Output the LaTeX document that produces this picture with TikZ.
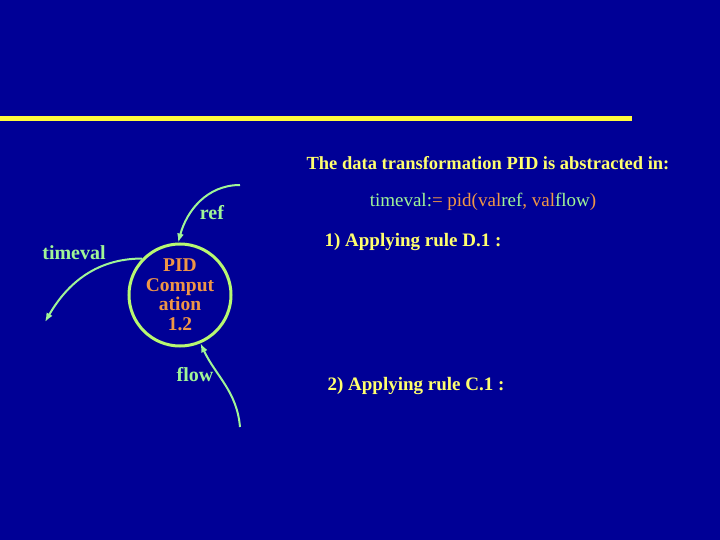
\documentclass[tikz,border=0pt]{standalone}
\usepackage{fontspec}
\setmainfont{Liberation Serif}
\usetikzlibrary{arrows.meta}
\definecolor{slideblue}{RGB}{0,0,150}
\definecolor{rulebar}{RGB}{255,250,60}
\definecolor{flowgreen}{RGB}{160,245,150}
\definecolor{procorange}{RGB}{240,150,70}
\definecolor{titleyellow}{RGB}{255,255,110}

\tikzset{
  flowlabel/.style={text=flowgreen, font=\fontsize{20}{22}\selectfont\bfseries},
  flowarrow/.style={draw=flowgreen, line width=2pt, -{Latex[length=9pt,width=7pt]}},
  slidetext/.style={text=titleyellow, font=\fontsize{19}{21}\selectfont\bfseries},
}

\begin{document}
\begin{tikzpicture}[x=1pt, y=-1pt]
	\fill[slideblue] (0,0) rectangle (720,540);
	\useasboundingbox (0,0) rectangle (720,540);
	\draw[rulebar, line width=5pt] (0,119) -- (632,119);
	% process bubble
	\node[circle, draw=flowgreen!75!yellow, line width=3pt, minimum size=102pt, inner sep=0pt,
	  align=center, text=procorange, font=\fontsize{19.5}{19.5}\selectfont\bfseries] (pid) at (180,295)
	  {PID\\Comput\\ation\\1.2};
	% data flows
	\coordinate (refsrc) at (240,185);
	\coordinate (timedst) at (45,322);
	\coordinate (flowsrc) at (240,427);
	\draw[flowarrow] (refsrc) to[out=180, in=75] (pid.92);
	\draw[flowarrow] (pid.136) to[out=180, in=60] (timedst);
	\draw[flowarrow] (flowsrc) to[out=95, in=-65] (pid.-67);
	\node[flowlabel] (reflbl) at (212,213) {ref};
	\node[flowlabel] (timelbl) at (74,253) {timeval};
	\node[flowlabel] (flowlbl) at (195,375) {flow};
	% text on the right
	\node[slidetext, font=\fontsize{18.5}{21}\selectfont\bfseries] (title) at (488,163) {The data transformation PID is abstracted in:};
	\node[font=\fontsize{19}{21}\selectfont] (formula) at (483,202)
	  {\color{flowgreen}timeval:\color{procorange}= pid(val\color{flowgreen}ref\color{procorange}, val\color{flowgreen}flow\color{procorange})};
	\node[slidetext] (ruleD) at (413,242) {1) Applying rule D.1 :};
	\node[slidetext] (ruleC) at (416,386) {2) Applying rule C.1 :};
\end{tikzpicture}
\end{document}
